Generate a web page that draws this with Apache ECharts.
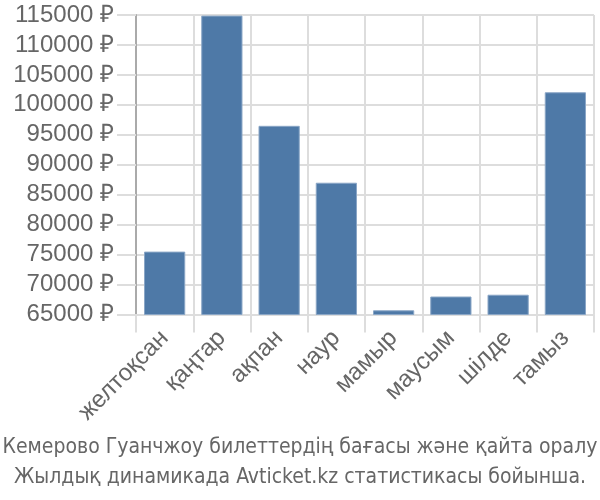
<!DOCTYPE html>
<html>
<head>
<meta charset="utf-8">
<script src="https://cdn.jsdelivr.net/npm/echarts@6/dist/echarts.min.js"></script>
<style>html,body{margin:0;padding:0;background:#fff}#c{width:600px;height:500px}</style>
</head>
<body>
<div id="c"></div>
<script>
var categories = ['желтоқсан', 'қаңтар', 'ақпан', 'наур', 'мамыр', 'маусым', 'шілде', 'тамыз'];
var prices = [75500, 114900, 96500, 87000, 65700, 68000, 68300, 102100];
var yMin = 65000, yMax = 115000, yStep = 5000;
var titleLines = ['Кемерово Гуанчжоу билеттердің бағасы және қайта оралу', 'Жылдық динамикада Avticket.kz статистикасы бойынша.'];

var chart = echarts.init(document.getElementById('c'), null, {renderer: 'canvas'});
chart.setOption({
  animation: false,
  title: {
    text: titleLines.join('\n'),
    left: 'center',
    top: 428,
    textStyle: {fontFamily: '"DejaVu Sans Condensed", "Liberation Sans Narrow", sans-serif', fontSize: 21, fontWeight: 'normal', color: '#666', lineHeight: 30}
  },
  grid: {left: 136, right: 6, top: 15, bottom: 185.5, containLabel: false},
  xAxis: {
    type: 'category',
    data: categories,
    axisLine: {lineStyle: {color: '#ddd', width: 2}},
    axisTick: {show: true, length: 18, lineStyle: {color: '#ddd', width: 2}},
    splitLine: {show: true, lineStyle: {color: '#ddd', width: 2}},
    axisLabel: {rotate: 45, margin: 20, fontFamily: 'Liberation Sans', fontSize: 24, color: '#666'}
  },
  yAxis: {
    type: 'value',
    min: yMin, max: yMax, interval: yStep,
    axisLine: {show: true, lineStyle: {color: '#aaa', width: 2}},
    axisTick: {show: true, length: 19, lineStyle: {color: '#ddd', width: 2}},
    splitLine: {show: true, lineStyle: {color: '#ddd', width: 2}},
    axisLabel: {margin: 22, fontFamily: 'Liberation Sans', fontSize: 24, color: '#666', formatter: function (v) { return v + ' ₽'; }}
  },
  series: [{
    type: 'bar',
    data: prices,
    barCategoryGap: '28%',
    itemStyle: {color: '#4e79a7', borderColor: '#8aa6c6', borderWidth: 1}
  }]
});
</script>
</body>
</html>
